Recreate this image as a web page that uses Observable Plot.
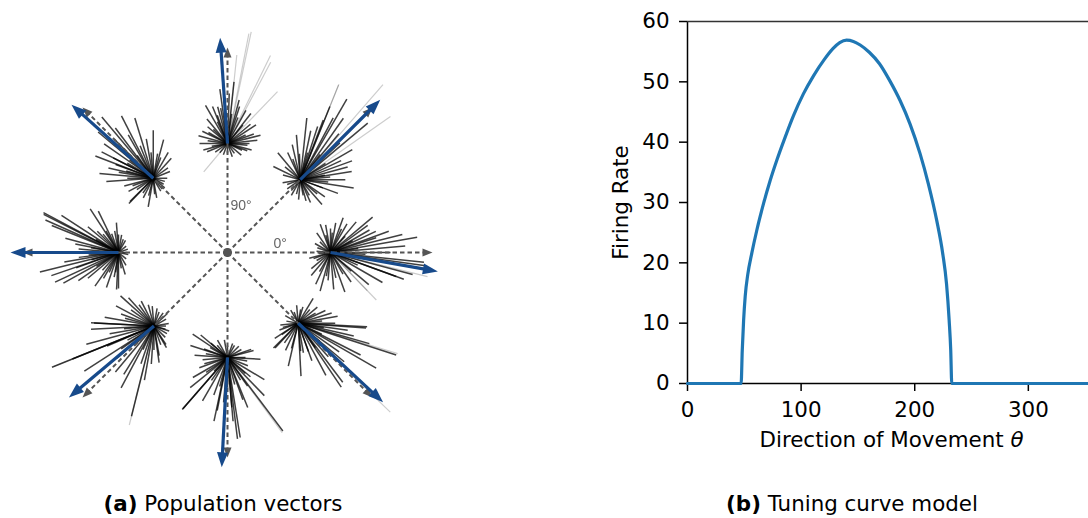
<!DOCTYPE html>
<html><head><meta charset="utf-8">
<script src="https://cdn.jsdelivr.net/npm/d3@7"></script>
<script src="https://cdn.jsdelivr.net/npm/@observablehq/plot@0.6"></script>
<style>
html,body{margin:0;padding:0;background:#fff;}
#fig{position:relative;width:1088px;height:518px;overflow:hidden;font-family:"DejaVu Sans",sans-serif;color:#000;}
#pa{position:absolute;left:0;top:0;width:455px;height:480px;}
#pa svg{filter:blur(0.4px);}
#pb{position:absolute;left:600px;top:0;width:496px;height:460px;}
#fig svg{max-width:none !important;}
.cap{position:absolute;top:491px;font-size:21.4px;white-space:nowrap;transform:translateX(-50%);}
#xl{position:absolute;left:687px;width:409px;top:427px;text-align:center;font-size:21.4px;white-space:nowrap;}
</style></head><body>
<div id="fig">
<div id="pa"></div><div id="pb"></div>
<div id="xl">Direction of Movement <i>θ</i></div>
<div class="cap" style="left:223px"><b>(a)</b> Population vectors</div>
<div class="cap" style="left:852px"><b>(b)</b> Tuning curve model</div>
</div>
<script>
// ---------- Panel (a): population vectors ----------
const directions = [0, 45, 90, 135, 180, 225, 270, 315];
const originRadius = [103, 103, 109, 105, 109, 104, 105, 100];
const dashedRadius = 205;
const blueAngle = [-10, 45, 94, 138, 180, 220, 267, 317];
const blueLength = [109, 113, 106, 110, 108, 111, 110, 116];
const angleLabels = ["0°", "90°"];
const angleLabelX = [46, 3];
const angleLabelY = [9, 47];

// each fan line: [angle (deg), length, opacity]
const fan0 = [[70,37],[40,55],[14,74],[36,46],[-6,94],[-20,78],[245,35],[275,37],[-46,53,.2],[110,30],[-46,66,.2],[100,28],[125,24],[150,18],[175,14],[200,18],[220,25],[255,40],[290,42],[305,36],[320,50],[330,60],[340,70],[345,85],[352,96],[0,60],[5,75],[10,88],[20,62],[25,50],[30,45],[50,40],[60,33],[80,30],[90,24],[-14,100,.3],[18,48],[195,22],[230,30],[265,28],
  [8,28],[28,25],[48,22],[65,26],[85,20],[105,18],[135,15],[160,14],[185,12],[210,16],[240,22],[260,24],[282,26],[300,25],[318,28],[335,30],[350,32],[-3,35]];
const fan1 = [[68,102,.25],[60,93],[68,79],[84,62],[103,36],[130,35],[154,30],[9,52],[-9,54],[-66,25],[-49,33],[35,110,.2],[49,126,.2],[40,88],[69,64],[72,56],[43,54],[15,49],[68,103,.2],[62,70],[55,75],[50,60],[30,60],[25,45],[20,55],[0,45],[-20,40],[-35,30],[190,18],[215,16],[240,18],[265,20],[285,22],[115,30],[95,45],[78,50],[45,40],[5,30],
  [10,25],[33,30],[52,32],[75,28],[92,26],[110,22],[140,20],[165,18],[200,14],[230,14],[255,15],[280,16],[300,18],[320,22],[340,24],[355,28]];
const fan2 = [[78,114,.15],[64,98,.15],[46,72,.15],[120,44],[112,40],[110,30],[72,39],[61,38],[52,38],[180,28],[154,28],[6,30],[14,34],[33,34],[202,22],[-20,21],[84,62],[84,89,.3],[101,36],[94,42],[230,37,.15],[79,112,.15],[62,92,.15],[130,32],[140,26],[165,30],[20,28],[40,30],[88,50],[98,55],[105,38],[75,45],[215,15],[250,12],[290,14],[320,18],[345,25],[195,25],
  [0,22],[25,20],[50,24],[68,28],[82,30],[96,28],[115,24],[135,20],[150,22],[172,20],[190,16],[230,12],[270,10],[305,12],[335,16],[355,20]];
const fan3 = [[117,70],[107,63],[127,63],[159,62],[153,58],[175,54],[184,47],[208,28],[225,33],[243,22],[260,29],[90,48],[75,40],[48,27],[22,18],[-40,15],[167,46],[153,45],[130,80],[226,35],[140,72],[145,60],[135,55],[120,50],[100,40],[160,40],[170,35],[195,30],[280,20],[300,15],[330,12],[60,30],[80,25],[112,35],[150,30],
  [0,14],[35,18],[70,22],[95,26],[125,28],[142,30],[165,28],[180,26],[200,22],[215,20],[235,18],[255,18],[275,16],[310,14],[345,12]];
const fan4 = [[153,84],[156,80],[147,68],[158,72],[123,52],[116,46],[94,30],[120,25],[194,81],[199,71],[209,63],[215,49],[235,41],[251,37],[267,37],[-73,23],[-11,10],[180,50],[187,40],[169,44],[152,85],[205,70],[270,36],[140,40],[165,55],[175,40],[190,55],[200,45],[220,40],[240,30],[260,25],[100,22],[80,18],[60,14],[20,10],[300,15],[135,30],
  [0,8],[40,10],[70,14],[90,18],[110,20],[130,24],[150,26],[170,28],[185,30],[195,28],[212,26],[228,24],[245,22],[262,20],[280,16],[320,10]];
const fan5 = [[132,38],[152,43],[183,63],[177,60],[202,110],[202,88],[213,83],[256,93],[242,70],[251,40],[266,38],[-82,37],[-57,22],[-18,16],[43,18],[117,28],[203,51],[221,49],[238,57],[202,108,.35],[256,102,.35],[177,63],[138,45],[190,45],[170,50],[160,35],[230,60],[215,40],[195,70],[260,55],[280,30],[300,25],[330,15],[10,15],[70,15],[95,20],
  [0,12],[30,14],[55,16],[80,18],[105,22],[125,26],[145,28],[165,30],[185,30],[208,30],[225,28],[245,26],[270,24],[290,20],[315,16],[345,12]];
const fan6 = [[140,35],[162,39],[176,33],[19,25],[-3,33],[-31,43],[-46,53],[-53,92],[-68,54],[-81,81],[-85,64],[258,65],[240,50],[229,69],[219,48],[259,54],[-83,82],[139,22],[45,16],[225,19],[229,68],[-54,93,.35],[146,42],[15,27],[250,40],[265,45],[275,50],[290,45],[305,35],[320,30],[200,30],[185,25],[160,25],[120,20],[100,18],[70,15],[-10,20],[210,40],
  [0,18],[30,16],[60,14],[90,12],[130,16],[150,20],[170,22],[195,24],[215,26],[235,28],[255,30],[270,30],[285,28],[300,26],[318,24],[338,22]];
const fan7 = [[59,29],[17,35],[0,37],[-4,68],[-18,103],[-30,90],[-27,70],[-56,77],[-62,59],[-87,53],[257,44],[225,35],[213,28],[186,18],[74,17],[-16,74],[-13,57],[-17,104,.35],[-44,128,.35],[-3,69],[227,34],[-53,74],[-40,60],[-35,50],[-48,45],[-70,40],[-80,30],[245,30],[200,20],[150,15],[120,15],[95,18],[40,25],[25,30],[10,40],[-8,50],
  [5,24],[30,20],[50,18],[80,14],[110,12],[170,12],[195,16],[215,20],[235,24],[255,26],[275,28],[290,30],[305,30],[320,28],[335,26],[350,26]];
const fans = [fan0, fan1, fan2, fan3, fan4, fan5, fan6, fan7];

// ---------- Panel (b): tuning curve ----------
const theta = [0, 47.2, 48.2, 49.4, 50.8, 53, 56.6, 61, 66.9, 72.7, 78.6, 85.9, 93.3, 102, 110.9, 120, 128, 134, 140, 146, 152, 160, 169, 178, 187.1, 195.9, 204.7, 212, 219.4, 224.6, 228, 230.3, 231.7, 232.6, 360];
const rate  = [0, 0, 5.5, 10.5, 14.5, 18, 21.6, 25.4, 29.8, 33.6, 37, 40.8, 44.4, 48, 51, 53.6, 55.5, 56.5, 56.9, 56.7, 56.1, 54.9, 53, 50.2, 46.9, 43, 38.1, 33.1, 27, 21.6, 16.5, 10.5, 5.5, 0, 0];
const xTicks = [0, 100, 200, 300];
const yTicks = [0, 10, 20, 30, 40, 50, 60];

// ---------- build panel (a) ----------
const rad = d => d * Math.PI / 180;
const lines = [];
fans.forEach((fan, i) => {
  const a0 = rad(directions[i]);
  const ox = originRadius[i] * Math.cos(a0), oy = originRadius[i] * Math.sin(a0);
  fan.forEach(([ang, len, al = 0.6]) => {
    lines.push({x1: ox, y1: oy, x2: ox + len * Math.cos(rad(ang)), y2: oy + len * Math.sin(rad(ang)), faint: al < 0.5});
  });
});
const grayHeadLen = 10, blueHeadLen = 15;
const dashed = directions.map(a => ({
  angle: a,
  x1: 0, y1: 0,
  x2: (dashedRadius - grayHeadLen + 2) * Math.cos(rad(a)), y2: (dashedRadius - grayHeadLen + 2) * Math.sin(rad(a)),
  xt: dashedRadius * Math.cos(rad(a)), yt: dashedRadius * Math.sin(rad(a))
}));
const blue = directions.map((a, i) => {
  const ox = originRadius[i] * Math.cos(rad(a)), oy = originRadius[i] * Math.sin(rad(a));
  const b = rad(blueAngle[i]), L = blueLength[i];
  return {angle: blueAngle[i], x1: ox, y1: oy,
    x2: ox + (L - blueHeadLen + 3) * Math.cos(b), y2: oy + (L - blueHeadLen + 3) * Math.sin(b),
    xt: ox + L * Math.cos(b), yt: oy + L * Math.sin(b)};
});
const headSymbol = (len, half) => ({draw(ctx) { ctx.moveTo(0, 0); ctx.lineTo(-half, len); ctx.lineTo(half, len); ctx.closePath(); }});
const grayHead = headSymbol(grayHeadLen, 4);
const blueHead = headSymbol(blueHeadLen, 5.5);
const labels = angleLabels.map((t, i) => ({t, x: angleLabelX[i], y: angleLabelY[i]}));

const pa = Plot.plot({
  width: 455, height: 480, marginTop: 0, marginRight: 0, marginBottom: 0, marginLeft: 0,
  x: {domain: [-227, 228], axis: null},
  y: {domain: [-228, 252], axis: null},
  style: {background: "transparent", overflow: "visible", maxWidth: "none"},
  marks: [
    Plot.link(lines.filter(d => d.faint), {x1: "x1", y1: "y1", x2: "x2", y2: "y2", stroke: "#000", strokeOpacity: 0.2, strokeWidth: 1.2}),
    Plot.link(lines.filter(d => !d.faint), {x1: "x1", y1: "y1", x2: "x2", y2: "y2", stroke: "#000", strokeOpacity: 0.75, strokeWidth: 1.5}),
    Plot.link(dashed, {x1: "x1", y1: "y1", x2: "x2", y2: "y2", stroke: "#555", strokeWidth: 2, strokeDasharray: "4.5,3"}),
    Plot.dot(dashed, {x: "xt", y: "yt", symbol: grayHead, r: 5, rotate: d => 90 - d.angle, fill: "#555", stroke: "none"}),
    Plot.link(blue, {x1: "x1", y1: "y1", x2: "x2", y2: "y2", stroke: "#174a8b", strokeWidth: 3.2}),
    Plot.dot(blue, {x: "xt", y: "yt", symbol: blueHead, r: 5, rotate: d => 90 - d.angle, fill: "#174a8b", stroke: "none"}),
    Plot.dot([{x: 0, y: 0}], {x: "x", y: "y", r: 4.5, fill: "#555"}),
    Plot.text(labels, {x: "x", y: "y", text: "t", textAnchor: "start", fill: "#666", fontSize: 14, fontFamily: "Liberation Sans, Arial, sans-serif"})
  ]
});
document.getElementById("pa").appendChild(pa);

// ---------- build panel (b) ----------
const tuning = theta.map((t, i) => ({t, r: rate[i]}));
const pb = Plot.plot({
  width: 496, height: 460, marginLeft: 87, marginTop: 21, marginBottom: 77, marginRight: 0,
  style: {fontFamily: '"DejaVu Sans", sans-serif', fontSize: "21.4px", color: "#000", background: "transparent", overflow: "visible", maxWidth: "none"},
  x: {domain: [0, 360]},
  y: {domain: [0, 60]},
  marks: [
    Plot.axisX({ticks: xTicks, tickSize: 8, tickPadding: 10, label: null, strokeWidth: 1.5}),
    Plot.axisY({ticks: yTicks, tickSize: 8, tickPadding: 10, label: "Firing Rate", labelAnchor: "center", labelOffset: 75, labelArrow: "none", strokeWidth: 1.5}),
    Plot.ruleX([0], {strokeWidth: 1.5}),
    Plot.ruleY([0], {strokeWidth: 1.5}),
    Plot.ruleY([60], {strokeWidth: 1.3, stroke: "#333"}),
    Plot.line(tuning, {x: "t", y: "r", stroke: "#1f77b4", strokeWidth: 3.2, curve: "monotone-x"})
  ]
});
document.getElementById("pb").appendChild(pb);
</script>
</body></html>
